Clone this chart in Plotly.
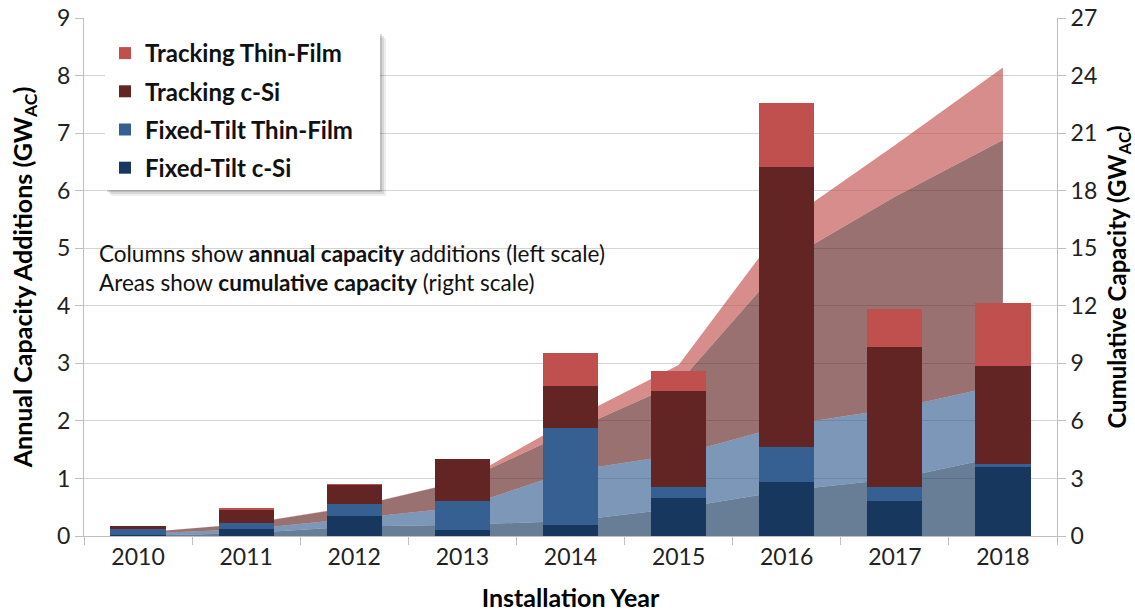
import plotly.graph_objects as go

years = ["2010", "2011", "2012", "2013", "2014", "2015", "2016", "2017", "2018"]

# Annual capacity additions (GW_AC, left scale)
fixed_csi = [0.01, 0.13, 0.35, 0.10, 0.19, 0.66, 0.93, 0.60, 1.20]
fixed_tf = [0.11, 0.10, 0.21, 0.50, 1.69, 0.20, 0.61, 0.26, 0.05]
track_csi = [0.05, 0.23, 0.33, 0.73, 0.73, 1.66, 4.87, 2.43, 1.71]
track_tf = [0.00, 0.01, 0.01, 0.00, 0.57, 0.34, 1.11, 0.65, 1.09]

# Cumulative capacity (GW_AC, right scale)
cum_fixed_csi = [0.01, 0.14, 0.49, 0.59, 0.78, 1.44, 2.37, 2.97, 4.17]
cum_fixed_tf = [0.11, 0.21, 0.42, 0.92, 2.61, 2.81, 3.42, 3.68, 3.73]
cum_track_csi = [0.05, 0.28, 0.61, 1.34, 2.07, 3.73, 8.60, 11.03, 12.74]
cum_track_tf = [0.00, 0.01, 0.02, 0.02, 0.59, 0.93, 2.04, 2.69, 3.78]

names = ["Fixed-Tilt c-Si", "Fixed-Tilt Thin-Film", "Tracking c-Si", "Tracking Thin-Film"]
bar_colors = ["#17375E", "#366092", "#632523", "#C0504D"]
area_colors = ["rgba(23,55,94,0.65)", "rgba(54,96,146,0.65)",
               "rgba(99,37,35,0.65)", "rgba(192,80,77,0.65)"]
legend_ranks = [4, 3, 2, 1]

FONT = "Lato"
fig = go.Figure()

for vals, col in zip([cum_fixed_csi, cum_fixed_tf, cum_track_csi, cum_track_tf], area_colors):
    fig.add_trace(go.Scatter(x=years, y=vals, stackgroup="cum", mode="none",
                             fillcolor=col, yaxis="y", showlegend=False,
                             hoverinfo="x+y"))

for vals, nm, col, rk in zip([fixed_csi, fixed_tf, track_csi, track_tf], names, bar_colors, legend_ranks):
    fig.add_trace(go.Bar(x=years, y=vals, name=nm, marker=dict(color=col, line=dict(width=0)),
                         yaxis="y2", legendgroup=nm, legendrank=rk))

grid = "#D4D4D4"
axcol = "#BFBFBF"
TICK = 23
TITLE = 25


def px2x(p):
    return (p - 84) / 973.0


def px2y(p):
    return (536 - p) / 518.0


fig.update_layout(
    width=1135, height=612,
    margin=dict(l=84, r=78, t=18, b=76),
    paper_bgcolor="white", plot_bgcolor="white",
    barmode="stack", bargap=0.49,
    font=dict(family=FONT, color="#000000", size=TICK),
    xaxis=dict(type="category", tickson="boundaries", ticks="outside", ticklen=8,
               tickcolor=axcol, showline=True, linecolor=axcol, linewidth=1, automargin=False,
               tickfont=dict(size=TICK, color="#222"), showgrid=False,
               title=dict(text="Installation Year", font=dict(size=TITLE, weight="bold"), standoff=21)),
    yaxis=dict(side="right", range=[0, 27], dtick=3, tick0=0, showgrid=True, gridcolor=grid,
               ticks="outside", ticklen=8, tickcolor=axcol, showline=True, linecolor=axcol,
               tickfont=dict(size=TICK, color="#222"), zeroline=False, automargin=False,
               title=dict(text="Cumulative Capacity (GW<sub>AC</sub>)",
                          font=dict(size=TITLE - 1, weight="bold"), standoff=12)),
    yaxis2=dict(overlaying="y", side="left", anchor="x", range=[0, 9], dtick=1, tick0=0,
                showgrid=False, ticks="outside", ticklen=8, tickcolor=axcol, showline=True,
                linecolor=axcol, tickfont=dict(size=TICK, color="#222"), zeroline=False,
                automargin=False,
                title=dict(text="Annual Capacity Additions (GW<sub>AC</sub>)",
                           font=dict(size=TITLE, weight="bold"), standoff=17)),
    legend=dict(x=px2x(105), y=px2y(31), xanchor="left", yanchor="top",
                bgcolor="rgba(0,0,0,0)", borderwidth=0, traceorder="grouped",
                tracegroupgap=4, font=dict(size=24, weight="bold", color="#111")),
    showlegend=True,
)

# legend box with a soft drop shadow
for off, op in [(6, 0.10), (4, 0.15), (2, 0.2)]:
    fig.add_shape(type="rect", xref="paper", yref="paper",
                  x0=px2x(105 + off), x1=px2x(380 + off), y0=px2y(190 + off), y1=px2y(32 + off),
                  fillcolor="#555555", opacity=op, line=dict(width=0), layer="above")
fig.add_shape(type="rect", xref="paper", yref="paper",
              x0=px2x(105), x1=px2x(380), y0=px2y(190), y1=px2y(32),
              fillcolor="white", line=dict(width=0), layer="above")

fig.add_annotation(xref="paper", yref="paper", x=px2x(97), y=px2y(253), xanchor="left",
                   yanchor="middle", showarrow=False, font=dict(size=22.5, color="#111"),
                   text="Columns show <b>annual capacity</b> additions (left scale)")
fig.add_annotation(xref="paper", yref="paper", x=px2x(97), y=px2y(282), xanchor="left",
                   yanchor="middle", showarrow=False, font=dict(size=22.5, color="#111"),
                   text="Areas show <b>cumulative capacity</b> (right scale)")

fig.write_html("out.html", config={"displayModeBar": False},
               post_script="document.body.style.margin='0';")
